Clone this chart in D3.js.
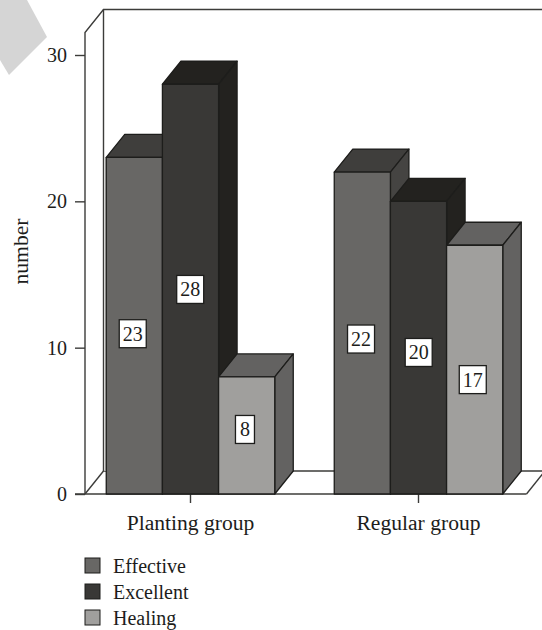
<!DOCTYPE html>
<html>
<head>
<meta charset="utf-8">
<script src="https://cdn.jsdelivr.net/npm/d3@7"></script>
<style>
  html, body { margin: 0; padding: 0; background: #fff; }
  svg { display: block; }
  text { font-family: "Liberation Serif", serif; fill: #1d1d1b; }
</style>
</head>
<body>
<div id="chart"></div>
<script>
const groups = ["Planting group", "Regular group"];
const seriesNames = ["Effective", "Excellent", "Healing"];
const effective = [23, 22];
const excellent = [28, 20];
const healing = [8, 17];
const yTicks = [0, 10, 20, 30];

const width = 542, height = 630;
const depthX = 18.5, depthY = 23;
const frontColors = ["#686765", "#393836", "#a09f9d"];
const topColors = ["#3f3e3c", "#23221f", "#636261"];
const sideColors = ["#454442", "#23221f", "#636261"];
const ink = "#1d1d1b";
const lineColor = "#3c3c3a";
// label boxes sit a little off the bar centre in the original
const labelDx = [[-1.6, -0.3, -1.7], [-1.3, 0.2, -1.9]];
const labelDy = [[8, 0.3, -6], [6, 4.8, 10]];

const svg = d3.select("#chart").append("svg").attr("width", width).attr("height", height);

svg.append("polygon")
    .attr("points", "0,0 27,0 47,37 9,75 0,60")
    .attr("fill", "#d5d5d5");

const y = d3.scaleLinear().domain([0, 30]).range([494, 55]);
const x0 = d3.scaleBand().domain(groups).range([76.5, 532.5]).paddingInner(0.261).paddingOuter(0.1305);
const x1 = d3.scaleBand().domain(seriesNames).range([0, x0.bandwidth()]);

const axisLeftX = 85, axisTop = 32.5, axisRight = 526.5;

// walls and floor
const wall = svg.append("g").attr("fill", "none").attr("stroke", lineColor).attr("stroke-width", 1.4);
wall.append("path").attr("d", `M${axisLeftX},${y(0)}V${axisTop}L${axisLeftX + depthX},${axisTop - depthY}H${width}`);
wall.append("path").attr("d", `M${axisLeftX + depthX},${axisTop - depthY}V${y(0) - depthY}H${width}`);
wall.append("path").attr("d", `M${axisLeftX},${y(0)}L${axisLeftX + depthX},${y(0) - depthY}`);
wall.append("path").attr("d", `M${axisRight},${y(0)}L${axisRight + depthX},${y(0) - depthY}`);

// thin pale strip between the back wall and the first bar
svg.append("rect")
    .attr("x", axisLeftX + depthX + 0.7)
    .attr("width", x0(groups[0]) - axisLeftX - depthX - 0.7)
    .attr("y", y(effective[0]))
    .attr("height", y(0) - depthY - y(effective[0]))
    .attr("fill", "#d2d2d0");

// axes
const yAxis = d3.axisLeft(y).tickValues(yTicks).tickSize(10).tickPadding(8).tickFormat(d3.format("d"));
const yG = svg.append("g").attr("transform", `translate(${axisLeftX},0)`).call(yAxis);
yG.select(".domain").remove();
yG.selectAll("line").attr("stroke", lineColor).attr("stroke-width", 1.4);
yG.selectAll("text").attr("font-size", 20).style("font-family", "Liberation Serif").attr("fill", ink);

svg.append("line").attr("x1", 75).attr("x2", axisRight).attr("y1", y(0)).attr("y2", y(0))
    .attr("stroke", lineColor).attr("stroke-width", 1.4);

const xAxis = d3.axisBottom(x0).tickSize(9).tickPadding(12);
const xG = svg.append("g").attr("transform", `translate(0,${y(0)})`).call(xAxis);
xG.select(".domain").remove();
xG.selectAll("line").attr("stroke", lineColor).attr("stroke-width", 1.4);
xG.selectAll("text").attr("font-size", 21.6).style("font-family", "Liberation Serif").attr("fill", ink);

svg.append("text")
    .attr("transform", "translate(28,251.5) rotate(-90)")
    .attr("text-anchor", "middle")
    .attr("font-size", 21.6)
    .text("number");

// bars, left to right so each one covers its neighbour's side face
const seriesValues = [effective, excellent, healing];
groups.forEach((g, gi) => {
    const bars = svg.append("g").attr("transform", `translate(${x0(g)},0)`);
    seriesNames.forEach((s, si) => {
        const v = seriesValues[si][gi];
        const left = x1(s), right = left + x1.bandwidth(), top = y(v), base = y(0);
        const bar = bars.append("g").attr("stroke", ink).attr("stroke-width", 1.3).attr("stroke-linejoin", "round");
        bar.append("polygon").attr("fill", topColors[si])
            .attr("points", [[left, top], [left + depthX, top - depthY], [right + depthX, top - depthY], [right, top]].join(" "));
        bar.append("polygon").attr("fill", sideColors[si])
            .attr("points", [[right, top], [right + depthX, top - depthY], [right + depthX, base - depthY], [right, base]].join(" "));
        bar.append("rect").attr("fill", frontColors[si])
            .attr("x", left).attr("y", top).attr("width", right - left).attr("height", base - top);
    });
    // value labels go on after all bars in the group
    seriesNames.forEach((s, si) => {
        const v = seriesValues[si][gi];
        const cx = x1(s) + x1.bandwidth() / 2 + labelDx[gi][si];
        const cy = y(v / 2) + labelDy[gi][si];
        const boxW = v < 10 ? 19 : 27;
        bars.append("rect")
            .attr("x", cx - boxW / 2).attr("y", cy - 14).attr("width", boxW).attr("height", 28)
            .attr("fill", "#fff").attr("stroke", ink).attr("stroke-width", 1.3);
        bars.append("text")
            .attr("x", cx).attr("y", cy + 7)
            .attr("text-anchor", "middle").attr("font-size", 20)
            .text(v);
    });
});

// legend
const legendY = d3.scaleBand().domain(seriesNames).range([553, 631]);
const legend = svg.append("g").selectAll("g").data(seriesNames).join("g")
    .attr("transform", d => `translate(85,${legendY(d)})`);
legend.append("rect")
    .attr("width", 15).attr("height", 15)
    .attr("y", 5)
    .attr("fill", (d, i) => frontColors[i])
    .attr("stroke", ink).attr("stroke-width", 1);
legend.append("text")
    .attr("x", 28).attr("y", 20)
    .attr("font-size", 20)
    .text(d => d);
</script>
</body>
</html>
